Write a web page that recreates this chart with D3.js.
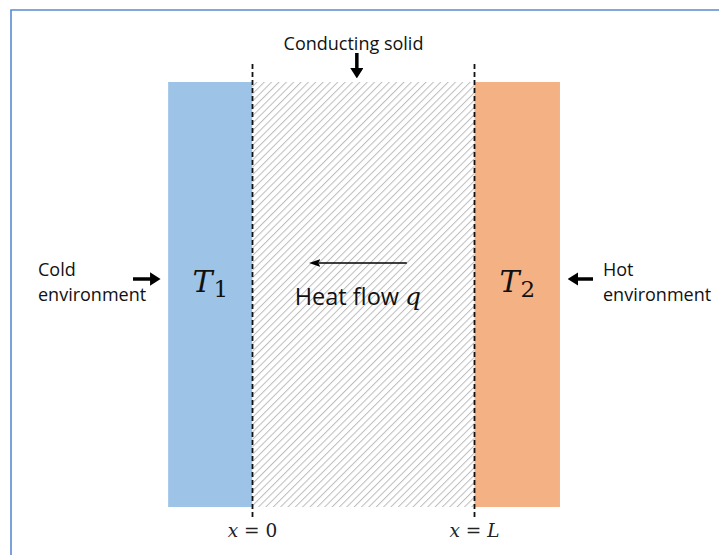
<!DOCTYPE html>
<html>
<head>
<meta charset="utf-8">
<script src="https://cdn.jsdelivr.net/npm/d3@7"></script>
<style>
  body { margin: 0; background: #fff; }
  svg { display: block; }
</style>
</head>
<body>
<svg id="chart" width="719" height="555"></svg>
<script>
// layer boundaries in units of the slab thickness L
const layerNames = ["cold wall", "conducting solid", "hot wall"];
const layerStart = [-0.38, 0, 1];
const layerEnd = [0, 1, 1.385];
const layerFill = ["#9dc3e6", "url(#hatch)", "#f4b183"];
const layerSymbol = ["T", null, "T"];
const layerIndex = ["1", null, "2"];

// the two faces of the solid
const faceValues = [0, 1];
const faceLabels = ["0", "L"];

// side labels
const sideLabels = [["Cold", "environment"], ["Hot", "environment"]];

const svg = d3.select("#chart");
const W = 719, H = 555;

// scale: slab thickness -> pixels
const x = d3.scaleLinear().domain([0, 1]).range([252.5, 474.5]);
const y = d3.scaleLinear().domain([0, 1]).range([82, 507]);

const defs = svg.append("defs");
const pat = defs.append("pattern")
  .attr("id", "hatch")
  .attr("patternUnits", "userSpaceOnUse")
  .attr("width", 5.2).attr("height", 5.2)
  .attr("patternTransform", "rotate(45)");
pat.append("rect").attr("width", 5.2).attr("height", 5.2).attr("fill", "#fff");
pat.append("line").attr("x1", 0).attr("y1", 0).attr("x2", 0).attr("y2", 5.2)
  .attr("stroke", "#bdbdbd").attr("stroke-width", 2);

// thick arrow head
defs.append("marker")
  .attr("id", "bigHead")
  .attr("viewBox", "0 0 10 10")
  .attr("preserveAspectRatio", "none")
  .attr("refX", 2).attr("refY", 5)
  .attr("markerWidth", 3).attr("markerHeight", 3.8)
  .attr("markerUnits", "strokeWidth")
  .attr("orient", "auto")
  .append("path").attr("d", "M0,0 L10,5 L0,10 Z").attr("fill", "#000");

defs.append("marker")
  .attr("id", "thinHead")
  .attr("viewBox", "0 0 10 10")
  .attr("preserveAspectRatio", "none")
  .attr("refX", 1).attr("refY", 5)
  .attr("markerWidth", 7.5).attr("markerHeight", 5)
  .attr("markerUnits", "strokeWidth")
  .attr("orient", "auto")
  .append("path").attr("d", "M0,0 L10,5 L0,10 L1.5,5 Z").attr("fill", "#000");

// frame
svg.append("path")
  .attr("d", `M11,${H} V10 H${W}`)
  .attr("fill", "none")
  .attr("stroke", "#5b8ad0")
  .attr("stroke-width", 1.6);

// layers
svg.selectAll("rect.layer")
  .data(layerNames)
  .join("rect")
  .attr("class", "layer")
  .attr("x", (d, i) => x(layerStart[i]))
  .attr("y", y(0))
  .attr("width", (d, i) => x(layerEnd[i]) - x(layerStart[i]))
  .attr("height", y(1) - y(0))
  .attr("fill", (d, i) => layerFill[i]);

// dashed face lines
svg.selectAll("line.face")
  .data(faceValues)
  .join("line")
  .attr("class", "face")
  .attr("x1", d => x(d)).attr("x2", d => x(d))
  .attr("y1", 64).attr("y2", 519)
  .attr("stroke", "#111")
  .attr("stroke-width", 1.8)
  .attr("stroke-dasharray", "5,3");

// face labels x = 0, x = L
const fl = svg.selectAll("text.face")
  .data(faceValues)
  .join("text")
  .attr("class", "face")
  .attr("x", d => x(d))
  .attr("y", 537)
  .attr("text-anchor", "middle")
  .attr("font-family", "'DejaVu Serif', serif")
  .attr("font-size", 18.5)
  .attr("fill", "#222");
fl.append("tspan").attr("font-style", "italic").text("x");
fl.append("tspan").text(" = ");
fl.append("tspan").attr("font-style", (d, i) => faceLabels[i] === "L" ? "italic" : "normal")
  .text((d, i) => faceLabels[i]);

// temperature symbols
const ts = svg.selectAll("text.temp")
  .data(layerNames.filter((d, i) => layerSymbol[i]))
  .join("text")
  .attr("class", "temp")
  .attr("x", d => {
    const i = layerNames.indexOf(d);
    return (x(layerStart[i]) + x(layerEnd[i])) / 2;
  })
  .attr("y", 292)
  .attr("text-anchor", "middle")
  .attr("font-family", "'DejaVu Serif', serif")
  .attr("fill", "#111");
ts.append("tspan").attr("font-style", "italic").attr("font-size", 30)
  .text(d => layerSymbol[layerNames.indexOf(d)]);
ts.append("tspan").attr("font-size", 23).attr("dx", 1).attr("dy", 5)
  .text(d => layerIndex[layerNames.indexOf(d)]);

// conducting solid label + arrow
svg.append("text")
  .attr("x", x(0.455)).attr("y", 50)
  .attr("text-anchor", "middle")
  .attr("font-family", "'Open Sans', sans-serif")
  .attr("font-size", 18)
  .attr("fill", "#111")
  .text("Conducting solid");
svg.append("line")
  .attr("x1", x(0.47)).attr("x2", x(0.47))
  .attr("y1", 53).attr("y2", 70)
  .attr("stroke", "#000").attr("stroke-width", 3.5)
  .attr("marker-end", "url(#bigHead)");

// heat flow arrow and label
svg.append("line")
  .attr("x1", x(0.695)).attr("x2", x(0.3))
  .attr("y1", 263).attr("y2", 263)
  .attr("stroke", "#000").attr("stroke-width", 1.5)
  .attr("marker-end", "url(#thinHead)");
const hf = svg.append("text")
  .attr("x", x(0.475)).attr("y", 305)
  .attr("text-anchor", "middle")
  .attr("font-family", "'Open Sans', sans-serif")
  .attr("font-size", 23.5)
  .attr("fill", "#111");
hf.append("tspan").text("Heat flow ");
hf.append("tspan").attr("font-family", "'DejaVu Serif', serif").attr("font-style", "italic")
  .attr("font-size", 25).text("q");

// side labels
const sideX = [38, 603];
sideLabels.forEach((lines, k) => {
  const t = svg.append("text")
    .attr("x", sideX[k]).attr("y", 276)
    .attr("font-family", "'Open Sans', sans-serif")
    .attr("font-size", 18)
    .attr("fill", "#111");
  lines.forEach((s, j) => {
    t.append("tspan").attr("x", sideX[k]).attr("dy", j ? 25 : 0).text(s);
  });
});

// environment arrows pointing into the walls
const envArrow = [[133, x(layerStart[0]) - 16], [593, x(layerEnd[2]) + 16]];
envArrow.forEach(([a, b]) => {
  svg.append("line")
    .attr("x1", a).attr("x2", b)
    .attr("y1", 279).attr("y2", 279)
    .attr("stroke", "#000").attr("stroke-width", 3.5)
    .attr("marker-end", "url(#bigHead)");
});
</script>
</body>
</html>
